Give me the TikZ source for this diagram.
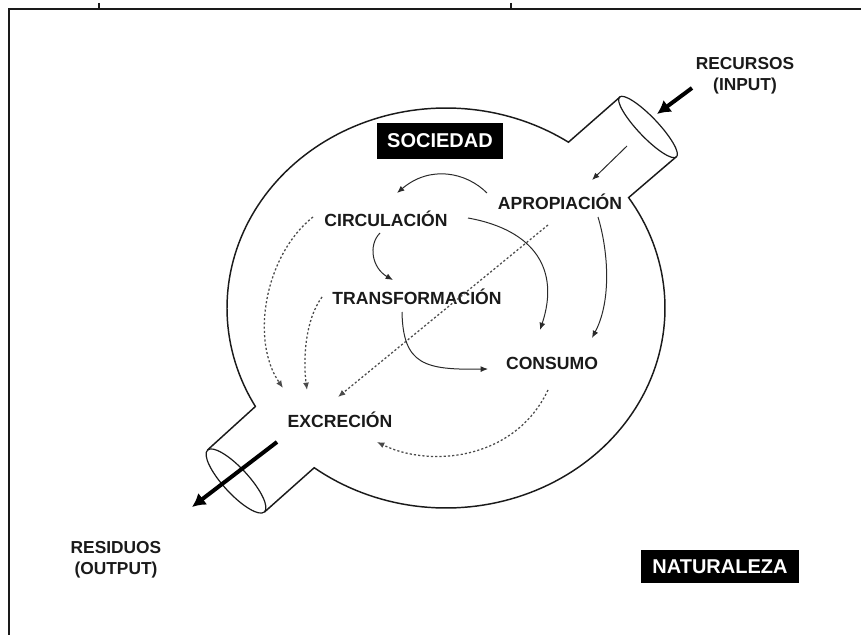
\documentclass[tikz,border=0pt]{standalone}
\usepackage{fontspec}
\setmainfont{Liberation Sans}
\usetikzlibrary{arrows.meta}
\definecolor{ink}{HTML}{1A1A1A}
\definecolor{thin}{HTML}{2A2A2A}
\definecolor{dots}{HTML}{4A4A4A}
\tikzset{
  lbl/.style={inner sep=0pt, text=ink, font=\bfseries\fontsize{13.2}{15}\selectfont},
  side/.style={inner sep=0pt, text=ink, align=center, font=\bfseries\fontsize{13}{15.5}\selectfont},
  blackbox/.style={fill=black, text=white, inner sep=0pt, font=\bfseries\fontsize{15}{17}\selectfont},
  outline/.style={draw=ink, line width=1.1pt, line join=miter},
  flow/.style={draw=thin, line width=0.75pt, -{Latex[length=5.5pt,width=4.5pt]}},
  dotflow/.style={draw=dots, line width=0.95pt, dash pattern=on 1.6pt off 1.6pt, -{Latex[length=5.5pt,width=4.5pt]}},
  bigarrow/.style={draw=black, line width=3pt, -{Latex[length=10pt,width=11pt]}}
}
\begin{document}
\begin{tikzpicture}[x=0.75pt,y=-0.75pt]
\useasboundingbox (0,0) rectangle (861,635);
% frame
\draw[ink, line width=1.1pt] (9,635) -- (9,9) -- (861,9);
\draw[ink, line width=0.8pt] (99,3) -- (99,9);
\draw[ink, line width=0.8pt] (511,3) -- (511,9);

% tube coordinates
\coordinate (e1t) at (620,97);
\coordinate (e1b) at (676,157);
\coordinate (j2) at (628.6,197.6);
\coordinate (e2t) at (207.5,450);
\coordinate (e2b) at (264.5,512);
\coordinate (j3) at (255.4,406.5);

% society outline
\draw[outline] (e1b) -- (j2) -- plot[domain=-33.5:127, samples=90] ({446+219*cos(\x)},{308+200*sin(\x)}) -- (e2b);
\draw[outline] (e2t) -- (j3) -- plot[domain=150.5:304, samples=90] ({446+219*cos(\x)},{308+200*sin(\x)}) -- (e1t);
% tube openings
\begin{scope}[shift={(648,127)}, rotate=-46.4]
  \draw[ink, line width=0.9pt] (0,0) ellipse [x radius=31pt, y radius=7.5pt];
\end{scope}
\begin{scope}[shift={(236,481)}, rotate=-47.4]
  \draw[ink, line width=0.9pt] (0,0) ellipse [x radius=31.5pt, y radius=9.5pt];
\end{scope}

% labels
\node[blackbox, minimum width=94.5pt, minimum height=27pt] (soc) at (440,141) {SOCIEDAD};
\node[blackbox, minimum width=118.5pt, minimum height=24.75pt] (nat) at (720,566.5) {NATURALEZA};
\node[side] (rec) at (745,76) {RECURSOS\\(INPUT)};
\node[side] (res) at (116,560) {RESIDUOS\\(OUTPUT)};

\node[lbl] (apro) at (560,202) {APROPIACIÓN};
\node[lbl] (circ) at (386,219) {CIRCULACIÓN};
\node[lbl] (trans) at (417,297) {TRANSFORMACIÓN};
\node[lbl] (cons) at (552,363) {CONSUMO};
\node[lbl] (excr) at (340,420) {EXCRECIÓN};

% big arrows
\coordinate (inS) at (692,88);
\coordinate (inE) at (657,114);
\coordinate (outS) at (277,442);
\coordinate (outE) at (192,507);
\draw[bigarrow] (inS) -- (inE);
\draw[bigarrow] (outS) -- (outE);

% connector endpoints
\coordinate (tubeA) at (627,146);
\coordinate (aproIn) at (592,180);
\coordinate (aproL) at (487,193);
\coordinate (circT) at (397,193);
\coordinate (circR) at (468,218);
\coordinate (consT1) at (540,330);
\coordinate (aproB) at (598,217);
\coordinate (consT2) at (592,338);
\coordinate (circB) at (380,233);
\coordinate (transT) at (393,280);
\coordinate (transB) at (402,312);
\coordinate (consL) at (488,369);
\coordinate (aproD) at (548,225);
\coordinate (excrA) at (338,397);
\coordinate (circL) at (313,217);
\coordinate (excrB) at (283,388);
\coordinate (transL) at (322,297);
\coordinate (excrC) at (307,390);
\coordinate (consB) at (548,390);
\coordinate (excrR) at (377,442);

% solid flows
\draw[flow] (tubeA) -- (aproIn);
\draw[flow] (aproL) .. controls (466,172) and (430,165) .. (circT);
\draw[flow] (circR) .. controls (535,230) and (560,270) .. (consT1);
\draw[flow] (aproB) .. controls (608,250) and (612,300) .. (consT2);
\draw[flow] (circB) .. controls (368,245) and (372,268) .. (transT);
\draw[flow] (transB) .. controls (403,365) and (425,370) .. (consL);

% dotted flows to excretion
\draw[dotflow] (aproD) -- (excrA);
\draw[dotflow] (circL) .. controls (265,255) and (250,340) .. (excrB);
\draw[dotflow] (transL) .. controls (305,320) and (303,360) .. (excrC);
\draw[dotflow] (consB) .. controls (515,460) and (430,468) .. (excrR);
\end{tikzpicture}
\end{document}
